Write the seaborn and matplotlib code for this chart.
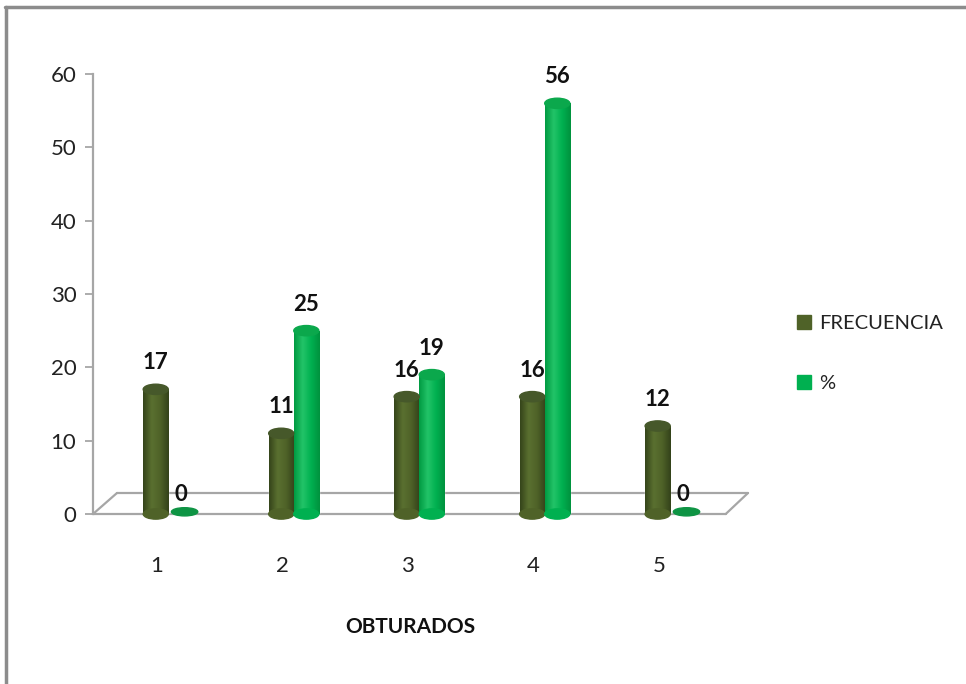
import numpy as np
import pandas as pd
import matplotlib
matplotlib.use("Agg")
import matplotlib.pyplot as plt
import seaborn as sns
from matplotlib.patches import Ellipse, Patch
from matplotlib.lines import Line2D
from matplotlib.colors import LinearSegmentedColormap
from matplotlib import font_manager

# ---- data ----
categories = ["1", "2", "3", "4", "5"]
frecuencia = [17, 11, 16, 16, 12]
porcentaje = [0, 25, 19, 56, 0]
series_names = ["FRECUENCIA", "%"]
y_ticks = [0, 10, 20, 30, 40, 50, 60]

df = pd.DataFrame({
    "OBTURADOS": categories * 2,
    "valor": frecuencia + porcentaje,
    "serie": [series_names[0]] * len(categories) + [series_names[1]] * len(categories),
})

sns.set_theme(style="white")
available = {f.name for f in font_manager.fontManager.ttflist}
family = [f for f in ["Liberation Sans Narrow", "Lato", "DejaVu Sans"] if f in available]
plt.rcParams["font.family"] = family

base_colors = {"FRECUENCIA": "#4F6228", "%": "#00B050"}
shade = {
    "FRECUENCIA": ["#35441A", "#5A7030", "#4F6228", "#33421A"],
    "%": ["#009A42", "#22C468", "#00B050", "#00923E"],
}
cap_color = {"FRECUENCIA": "#46582A", "%": "#0BA84C"}

W, H = 966, 684
fig = plt.figure(figsize=(W / 100, H / 100), dpi=100)
ax = fig.add_axes([93 / W, 1 - 514 / H, (748 - 93) / W, (514 - 74) / H])

sns.barplot(data=df, x="OBTURADOS", y="valor", hue="serie", palette=base_colors,
            width=0.4, gap=0, saturation=1, legend=False, ax=ax, zorder=3)

ax.set_xlim(-0.6, 4.62)
ax.set_ylim(0, 60)
cap_h = 1.4

for container, serie, values in zip(ax.containers, series_names, [frecuencia, porcentaje]):
    cmap = LinearSegmentedColormap.from_list(serie, shade[serie])
    grad = np.linspace(0, 1, 64).reshape(1, -1)
    for bar, v in zip(container, values):
        x, w, h = bar.get_x(), bar.get_width(), bar.get_height()
        cx = x + w / 2
        if h > 0:
            img = ax.imshow(grad, cmap=cmap, aspect="auto", extent=[x, x + w, 0, h],
                            zorder=4, interpolation="bicubic")
            img.set_clip_path(bar)
            ax.add_patch(Ellipse((cx, 0), w, cap_h, color=shade[serie][2],
                                 zorder=4, clip_on=False))
            ax.add_patch(Ellipse((cx, h), w, cap_h, color=cap_color[serie], zorder=5))
            label_y = h + 3.6
        else:
            ax.add_patch(Ellipse((cx + 0.03, 0.3), w * 1.05, cap_h * 0.8,
                                 color="#0E9444", zorder=5, clip_on=False))
            label_y = 2.6
        ax.text(cx, label_y, f"{v}", ha="center", va="center", fontsize=16,
                fontweight="bold", color="#111111", zorder=6)

# floor of the plot area
floor_kw = dict(color="#A6A6A6", lw=1.6, transform=ax.transAxes, clip_on=False, zorder=1)
back = 21 / 440
ax.add_line(Line2D([0.0366, 1.0], [back, back], **floor_kw))
ax.add_line(Line2D([0.0, 0.966], [0.0, 0.0], **floor_kw))
ax.add_line(Line2D([1.0, 0.966], [back, 0.0], **floor_kw))
ax.add_line(Line2D([0.0366, 0.0], [back, 0.0], **floor_kw))

for side in ["top", "right", "bottom"]:
    ax.spines[side].set_visible(False)
ax.spines["left"].set_color("#A6A6A6")
ax.spines["left"].set_linewidth(1.6)

ax.set_yticks(y_ticks)
ax.set_yticklabels([str(t) for t in y_ticks])
ax.tick_params(axis="y", direction="out", length=6, width=1.3, color="#A6A6A6",
               labelsize=16, labelcolor="#222222", pad=6, left=True)
ax.set_xticks(np.arange(len(categories)) - 0.09)
ax.set_xticklabels(categories)
ax.tick_params(axis="x", length=0, labelsize=16, labelcolor="#222222", pad=30)
ax.set_ylabel("")
ax.set_xlabel("OBTURADOS", fontsize=15, fontweight="bold", color="#111111")
ax.xaxis.set_label_coords((410 - 93) / 655, -(617 - 514) / 440)
ax.grid(False)

handles = [Patch(color=base_colors[s]) for s in series_names]
fig.legend(handles, series_names, loc="upper left", bbox_to_anchor=(779 / W, 1 - 297 / H),
           frameon=False, handlelength=0.7, handleheight=0.7, handletextpad=0.4,
           labelspacing=2.1, fontsize=14.5, labelcolor="#222222")

# outer frame
frame_kw = dict(color="#8C8C8C", lw=2.5, transform=fig.transFigure)
fig.add_artist(Line2D([5 / W, 1.0], [1 - 7 / H, 1 - 7 / H], **frame_kw))
fig.add_artist(Line2D([6 / W, 6 / W], [0.0, 1 - 7 / H], **frame_kw))

fig.savefig("out.png", dpi=100)
